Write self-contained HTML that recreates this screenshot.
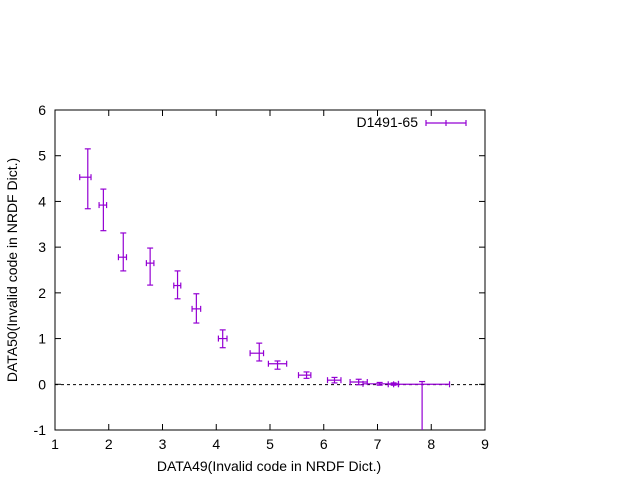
<!DOCTYPE html>
<html><head><meta charset="utf-8"><style>body{margin:0;background:#fff}svg{display:block;font-family:"Liberation Sans",sans-serif}</style></head>
<body>
<svg id="c" width="640" height="480">
<rect x="55" y="110" width="430" height="320" fill="none" stroke="#000"/>
<line x1="55" x2="485" y1="384.6" y2="384.6" stroke="#000" stroke-dasharray="3,3"/>
<g id="ticks"></g>
<g id="marks"></g>
<text x="418" y="127" text-anchor="end" font-size="14">D1491-65</text>
<g stroke="#9400d3" stroke-width="1.2"><line x1="426" x2="466" y1="123" y2="123"/><line x1="426" x2="426" y1="120" y2="126"/><line x1="466" x2="466" y1="120" y2="126"/><line x1="446" x2="446" y1="120" y2="126"/></g>
<text x="269" y="471" text-anchor="middle" font-size="14">DATA49(Invalid code in NRDF Dict.)</text>
<text transform="translate(17,270) rotate(-90)" text-anchor="middle" font-size="14">DATA50(Invalid code in NRDF Dict.)</text>
</svg>
<script>
const xVals=[1.61,1.90,2.27,2.77,3.28,3.63,4.12,4.80,5.14,5.68,6.20,6.65,7.04,7.30,7.83];
const xLow=[1.46,1.82,2.18,2.70,3.21,3.55,4.04,4.63,4.97,5.53,6.07,6.49,6.73,7.20,7.30];
const xHigh=[1.67,1.96,2.33,2.84,3.34,3.71,4.20,4.88,5.31,5.76,6.32,6.81,7.39,7.39,8.34];
const yVals=[4.53,3.92,2.78,2.65,2.16,1.65,1.00,0.68,0.45,0.20,0.09,0.05,0.01,0.00,0.00];
const yLow=[3.84,3.36,2.48,2.17,1.87,1.34,0.80,0.51,0.33,0.13,0.03,-0.01,-0.02,-0.02,-1.2];
const yHigh=[5.15,4.27,3.31,2.98,2.48,1.98,1.19,0.90,0.51,0.27,0.15,0.11,0.04,0.03,0.06];
const xTicks=[1,2,3,4,5,6,7,8,9];
const yTicks=[-1,0,1,2,3,4,5,6];
const X=v=>55+(v-1)*430/8, Y=v=>430-(v+1)*320/7;
const NS='http://www.w3.org/2000/svg';
function mk(t,a,p){const e=document.createElementNS(NS,t);for(const k in a)e.setAttribute(k,a[k]);p.appendChild(e);return e;}
const tg=document.getElementById('ticks');
xTicks.forEach(v=>{const l=mk('line',{x1:X(v),x2:X(v),y1:430,y2:424,stroke:'#000'},tg);


const u=mk('line',{x1:X(v),x2:X(v),y1:110,y2:116,stroke:'#000'},tg);


const t=mk('text',{x:X(v),y:449,'text-anchor':'middle','font-size':14},tg);t.textContent=v;

});
yTicks.forEach(v=>{const l=mk('line',{x1:55,x2:61,y1:Y(v),y2:Y(v),stroke:'#000'},tg);


const r=mk('line',{x1:485,x2:479,y1:Y(v),y2:Y(v),stroke:'#000'},tg);


const t=mk('text',{x:46,y:Y(v)+5,'text-anchor':'end','font-size':14},tg);t.textContent=v;

});
const mg=document.getElementById('marks');
xVals.forEach((x,i)=>{const g=mk('g',{stroke:'#9400d3','stroke-width':1.2},mg);


const cx=X(x),cy=Y(yVals[i]),y1=Math.max(110,Math.min(430,Y(yLow[i]))),y2=Y(yHigh[i]);
mk('line',{x1:cx,x2:cx,y1:y1,y2:y2},g);
if(Y(yLow[i])<=430)mk('line',{x1:cx-3,x2:cx+3,y1:y1,y2:y1},g);
mk('line',{x1:cx-3,x2:cx+3,y1:y2,y2:y2},g);
const xa=X(xLow[i]),xb=X(xHigh[i]);
mk('line',{x1:xa,x2:xb,y1:cy,y2:cy},g);
mk('line',{x1:xa,x2:xa,y1:cy-3,y2:cy+3},g);
mk('line',{x1:xb,x2:xb,y1:cy-3,y2:cy+3},g);});
</script>
</body></html>
